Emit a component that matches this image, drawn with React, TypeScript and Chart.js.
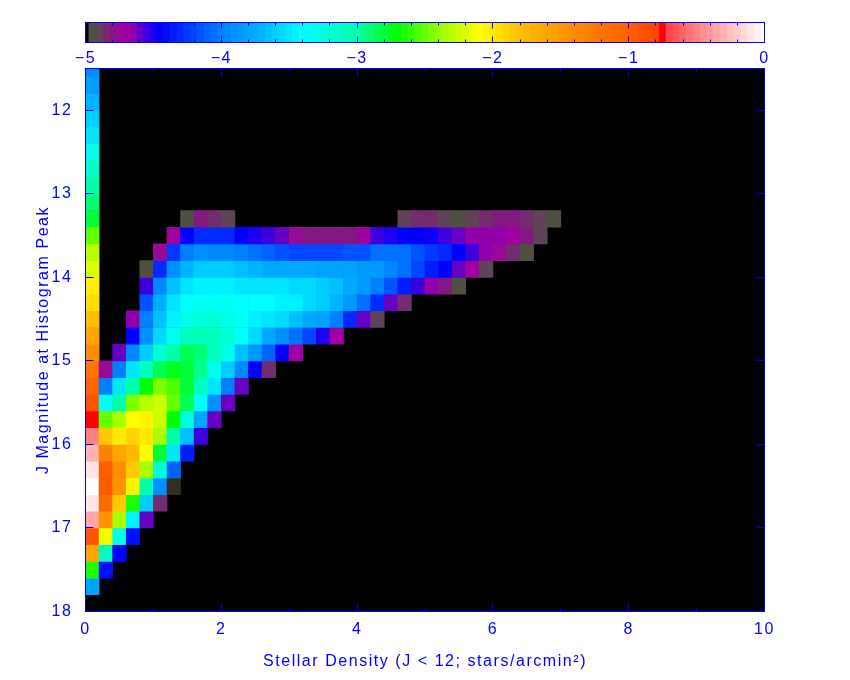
import React, { useEffect, useRef } from "react";
import { Chart, registerables } from "chart.js";

Chart.register(...registerables);

const BLUE = "#0000ff";
const FONT = "'Liberation Sans'";
const SPACING = "1.55px";

// Faint edge of each histogram row, magnitudes (J), row height 0.2
const rowMagnitudes = [
  11.4, 11.6, 11.8, 12.0, 12.2, 12.4, 12.6, 12.8, 13.0, 13.2, 13.4, 13.6, 13.8, 14.0, 14.2, 14.4,
  14.6, 14.8, 15.0, 15.2, 15.4, 15.6, 15.8, 16.0, 16.2, 16.4, 16.6, 16.8, 17.0, 17.2, 17.4, 17.6,
];

// First density column holds a value for every row
const firstColumn = [
  -3.93, -3.82, -3.7, -3.58, -3.5, -3.28, -3.14, -3.0, -2.9, -2.8, -2.5, -2.3, -2.2, -2.03, -1.95, -1.8,
  -1.6, -1.4, -1.2, -1.05, -0.9, -0.75, -0.5, -0.3, -0.1, 0, -0.1, -0.35, -0.9, -1.6, -2.65, -3.8,
];

// Column index at which each row's run of remaining cells starts
const rowStart: Record<string, number> = {
  "13.2": 7, "13.4": 6, "13.6": 5, "13.8": 4, "14.0": 4, "14.2": 4, "14.4": 3, "14.6": 3, "14.8": 2,
  "15.0": 1, "15.2": 1, "15.4": 1, "15.6": 1, "15.8": 1, "16.0": 1, "16.2": 1, "16.4": 1, "16.6": 1,
  "16.8": 1, "17.0": 1, "17.2": 1, "17.4": 1,
};

const row132 = [-4.95, -4.8, -4.85, -4.9, null, null, null, null, null, null, null, null, null, null, null, null, -4.9, -4.85, -4.85, -4.9, -4.95, -4.9, -4.85, -4.8, -4.8, -4.85, -4.9, -4.95];
const row134 = [-4.7, -4.45, -4.3, -4.3, -4.3, -4.45, -4.5, -4.55, -4.6, -4.75, -4.8, -4.8, -4.8, -4.8, -4.7, -4.55, -4.5, -4.45, -4.45, -4.47, -4.55, -4.6, -4.65, -4.65, -4.65, -4.7, -4.8, -4.9];
const row136 = [-4.75, -4.25, -4.0, -3.9, -3.95, -3.95, -4.0, -4.05, -4.1, -4.15, -4.2, -4.2, -4.2, -4.2, -4.15, -4.15, -4.05, -4.05, -4.05, -4.15, -4.25, -4.3, -4.45, -4.55, -4.65, -4.75, -4.85, -4.95];
const row138 = [-4.95, -4.3, -3.9, -3.7, -3.6, -3.6, -3.6, -3.65, -3.7, -3.75, -3.75, -3.75, -3.75, -3.8, -3.8, -3.8, -3.85, -3.85, -3.95, -4.05, -4.2, -4.35, -4.45, -4.6, -4.7, -4.9];
const row140 = [-4.55, -3.95, -3.65, -3.5, -3.45, -3.45, -3.45, -3.5, -3.5, -3.5, -3.5, -3.55, -3.55, -3.6, -3.65, -3.75, -3.85, -4.0, -4.15, -4.35, -4.55, -4.65, -4.8, -4.95];
const row142 = [-4.15, -3.75, -3.5, -3.4, -3.35, -3.35, -3.35, -3.4, -3.4, -3.4, -3.45, -3.45, -3.55, -3.6, -3.7, -3.85, -4.05, -4.3, -4.6, -4.85];
const row144 = [-4.65, -4.0, -3.65, -3.45, -3.3, -3.25, -3.2, -3.3, -3.35, -3.45, -3.5, -3.55, -3.65, -3.75, -3.8, -4.0, -4.3, -4.6, -4.9];
const row146 = [-4.45, -3.9, -3.55, -3.3, -3.1, -3.05, -3.1, -3.2, -3.4, -3.55, -3.75, -3.9, -4.05, -4.2, -4.5, -4.7];
const row148 = [-4.6, -3.95, -3.6, -3.2, -3.0, -2.85, -2.9, -3.1, -3.3, -3.65, -3.85, -4.1, -4.45, -4.7];
const row150 = [-4.75, -4.0, -3.5, -3.1, -2.85, -2.75, -2.8, -2.95, -3.3, -3.6, -3.95, -4.45, -4.85];
const row152 = [-4.0, -3.5, -3.0, -2.7, -2.45, -2.55, -2.8, -3.1, -3.5, -4.0, -4.6];
const row154 = [-3.35, -3.0, -2.45, -2.3, -2.25, -2.5, -2.85, -3.4, -3.9, -4.6];
const row156 = [-2.5, -2.35, -2.1, -2.05, -2.25, -2.7, -3.25, -3.8, -4.6];
const row158 = [-1.85, -2.0, -1.9, -2.0, -2.35, -3.0, -3.65, -4.55];
const row160 = [-1.3, -1.6, -1.75, -2.1, -2.8, -3.5, -4.35];
const row162 = [-1.0, -1.4, -1.85, -2.35, -3.2, -4.1];
const row164 = [-0.95, -1.45, -2.05, -3.0, -3.9, -4.97];
const row166 = [-1.1, -1.85, -2.65, -3.6, -4.85];
const row168 = [-1.45, -2.35, -3.45, -4.6];
const row170 = [-2.15, -3.3, -4.4];
const row172 = [-3.1, -4.45];
const row174 = [-4.4];

const rowRuns: Record<string, (number | null)[]> = {
  "13.2": row132, "13.4": row134, "13.6": row136, "13.8": row138, "14.0": row140, "14.2": row142,
  "14.4": row144, "14.6": row146, "14.8": row148, "15.0": row150, "15.2": row152, "15.4": row154,
  "15.6": row156, "15.8": row158, "16.0": row160, "16.2": row162, "16.4": row164, "16.6": row166,
  "16.8": row168, "17.0": row170, "17.2": row172, "17.4": row174,
};

const CELL_WIDTH = 0.2;
const CELL_HEIGHT = 0.2;

const xMajor = [0, 2, 4, 6, 8, 10];
const xMinor = [1, 3, 5, 7, 9];
const yMajor = [12, 13, 14, 15, 16, 17, 18];
const cbMajor = [-5, -4, -3, -2, -1, 0];
const cbMinor = [-4.8, -4.6, -4.4, -4.2, -3.8, -3.6, -3.4, -3.2, -2.8, -2.6, -2.4, -2.2, -1.8, -1.6, -1.4, -1.2, -0.8, -0.6, -0.4, -0.2];

// Colour table of the wedge: log density -> rgb
const colorStops: [number, number, number, number][] = [
  [-5, 0, 0, 0], [-4.95, 80, 80, 64], [-4.9, 95, 68, 88], [-4.85, 115, 45, 110], [-4.8, 130, 25, 130],
  [-4.75, 150, 10, 150], [-4.7, 160, 0, 160], [-4.65, 145, 0, 170], [-4.55, 60, 0, 220], [-4.45, 0, 0, 255],
  [-4.2, 0, 70, 255], [-4.0, 0, 128, 255], [-3.7, 0, 180, 255], [-3.4, 0, 255, 255], [-3.0, 0, 255, 170],
  [-2.7, 0, 255, 0], [-2.4, 150, 255, 0], [-2.1, 255, 255, 0], [-1.8, 255, 190, 0], [-1.4, 255, 140, 0],
  [-1.0, 255, 95, 0], [-0.8, 255, 70, 0], [-0.75, 255, 0, 0], [-0.7, 255, 70, 70], [-0.5, 255, 130, 130],
  [-0.25, 255, 190, 190], [0, 255, 255, 255],
];

function colorOf(v: number): string {
  for (let i = 1; i < colorStops.length; i++) {
    const a = colorStops[i - 1];
    const b = colorStops[i];
    if (v <= b[0]) {
      const t = Math.max(0, (v - a[0]) / (b[0] - a[0]));
      const c = [1, 2, 3].map((k) => Math.round(a[k] + (b[k] - a[k]) * t));
      return `rgb(${c[0]},${c[1]},${c[2]})`;
    }
  }
  return "rgb(255,255,255)";
}

function buildHeatDatasets() {
  return rowMagnitudes.map((mag, r) => {
    const data: any[] = [];
    const colors: string[] = [];
    const add = (col: number, v: number) => {
      data.push({ x: (col + 0.5) * CELL_WIDTH, y: [mag, mag + CELL_HEIGHT] });
      colors.push(colorOf(v));
    };
    add(0, firstColumn[r]);
    const key = mag.toFixed(1);
    const run = rowRuns[key];
    if (run) {
      run.forEach((v, i) => {
        if (v !== null) add(rowStart[key] + i, v);
      });
    }
    return { data, backgroundColor: colors, barPercentage: 1, categoryPercentage: 1, grouped: false, borderWidth: 0 };
  });
}

function buildWedgeDataset() {
  const data: any[] = [];
  const colors: string[] = [];
  for (const stop of colorLevels()) {
    data.push({ x: stop, y: [0, 1] });
    colors.push(colorOf(stop));
  }
  return { data, backgroundColor: colors, barPercentage: 1, categoryPercentage: 1, grouped: false, borderWidth: 0 };
}

function colorLevels() {
  const out: number[] = [];
  for (let k = 0; k <= 100; k++) out.push(-5 + k * 0.05);
  return out;
}

function stroke(ctx: CanvasRenderingContext2D, x1: number, y1: number, x2: number, y2: number) {
  ctx.beginPath();
  ctx.moveTo(x1, y1);
  ctx.lineTo(x2, y2);
  ctx.stroke();
}

const snap = (p: number) => Math.floor(p) + 0.5;

function framePlugin(opts: { black: boolean; xMaj: number[]; xMin: number[]; yMaj: number[]; majLen: number; minLen: number }) {
  return {
    id: "frame",
    beforeDraw(chart: any) {
      chart.ctx.letterSpacing = SPACING;
    },
    beforeDatasetsDraw(chart: any) {
      if (!opts.black) return;
      const { ctx, chartArea: a } = chart;
      ctx.save();
      ctx.fillStyle = "#000";
      ctx.fillRect(a.left, a.top, a.right - a.left, a.bottom - a.top);
      ctx.restore();
    },
    afterDatasetsDraw(chart: any) {
      const { ctx, chartArea: a, scales } = chart;
      ctx.save();
      ctx.strokeStyle = BLUE;
      ctx.lineWidth = 1;
      ctx.strokeRect(a.left, a.top, a.right - a.left, a.bottom - a.top);
      const xTick = (v: number, len: number) => {
        const p = snap(scales.x.getPixelForValue(v));
        stroke(ctx, p, a.top, p, a.top + len);
        stroke(ctx, p, a.bottom, p, a.bottom - len);
      };
      opts.xMaj.forEach((v) => xTick(v, opts.majLen));
      opts.xMin.forEach((v) => xTick(v, opts.minLen));
      opts.yMaj.forEach((v) => {
        const p = snap(scales.y.getPixelForValue(v));
        stroke(ctx, a.left, p, a.left + opts.majLen, p);
        stroke(ctx, a.right, p, a.right - opts.majLen, p);
      });
      ctx.restore();
    },
  };
}

export default function App() {
  const mainRef = useRef<HTMLCanvasElement>(null);
  const wedgeRef = useRef<HTMLCanvasElement>(null);

  useEffect(() => {
    const font = { family: FONT, size: 16 };
    const main = new Chart(mainRef.current!, {
      type: "bar",
      data: { datasets: buildHeatDatasets() as any },
      plugins: [framePlugin({ black: true, xMaj: xMajor, xMin: xMinor, yMaj: yMajor, majLen: 8, minLen: 4 })],
      options: {
        animation: false,
        responsive: false,
        events: [],
        layout: { padding: { top: 68.5, right: 85.5, left: 0, bottom: 0 } },
        plugins: { legend: { display: false }, tooltip: { enabled: false } },
        scales: {
          x: {
            type: "linear",
            min: 0,
            max: 10,
            offset: false,
            grid: { display: false, drawTicks: false },
            border: { display: false },
            afterBuildTicks: (s: any) => { s.ticks = xMajor.map((value) => ({ value })); },
            afterFit: (s: any) => { s.height = 68.5; },
            ticks: { color: BLUE, font, padding: 8, maxRotation: 0, autoSkip: false },
            title: { display: true, text: "Stellar Density (J < 12; stars/arcmin²)", color: BLUE, font, padding: { top: 0, bottom: 9 } },
          },
          y: {
            type: "linear",
            min: 11.5,
            max: 18,
            reverse: true,
            grid: { display: false, drawTicks: false },
            border: { display: false },
            afterBuildTicks: (s: any) => { s.ticks = yMajor.map((value) => ({ value })); },
            afterFit: (s: any) => { s.width = 85.5; },
            ticks: { color: BLUE, font, padding: 13, autoSkip: false },
            title: { display: true, text: "J Magnitude at Histogram Peak", color: BLUE, font, padding: { top: 34, bottom: 0 } },
          },
        },
      } as any,
    });

    const wedge = new Chart(wedgeRef.current!, {
      type: "bar",
      data: { datasets: [buildWedgeDataset()] as any },
      plugins: [framePlugin({ black: false, xMaj: cbMajor, xMin: cbMinor, yMaj: [], majLen: 6, minLen: 3 })],
      options: {
        animation: false,
        responsive: false,
        events: [],
        layout: { padding: { top: 22.5, left: 85.5, right: 85.5, bottom: 0 } },
        plugins: { legend: { display: false }, tooltip: { enabled: false } },
        scales: {
          x: {
            type: "linear",
            min: -5,
            max: 0,
            offset: false,
            grid: { display: false, drawTicks: false },
            border: { display: false },
            afterBuildTicks: (s: any) => { s.ticks = cbMajor.map((value) => ({ value })); },
            afterFit: (s: any) => { s.height = 25.5; },
            ticks: {
              color: BLUE,
              font,
              padding: 6,
              maxRotation: 0,
              autoSkip: false,
              callback: (v: any) => (Number(v) < 0 ? `\u2212${Math.abs(Number(v))}` : `${v}`),
            },
          },
          y: { type: "linear", min: 0, max: 1, display: false },
        },
      } as any,
    });

    return () => {
      main.destroy();
      wedge.destroy();
    };
  }, []);

  return (
    <div style={{ position: "absolute", left: 0, top: 0, width: 850, height: 680, background: "#fff" }}>
      <canvas ref={mainRef} width={850} height={680} style={{ position: "absolute", left: 0, top: 0 }} />
      <canvas ref={wedgeRef} width={850} height={68} style={{ position: "absolute", left: 0, top: 0 }} />
    </div>
  );
}
